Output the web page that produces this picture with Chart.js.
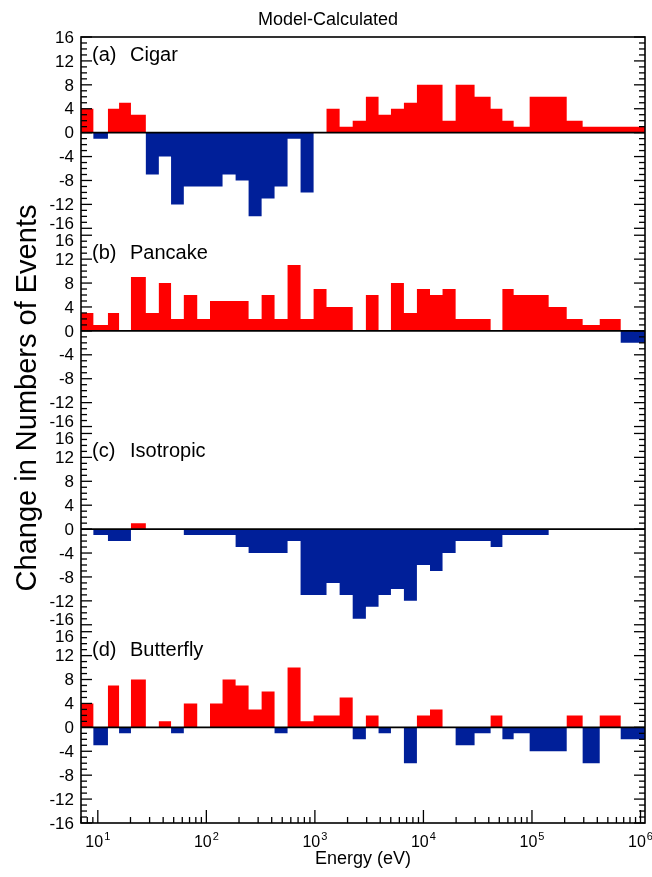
<!DOCTYPE html>
<html>
<head>
<meta charset="utf-8">
<script src="https://cdn.jsdelivr.net/npm/chart.js@4.4.1/dist/chart.umd.min.js"></script>
<style>
    html, body { margin: 0; padding: 0; background: #fff; }
    #wrap { width: 652px; height: 877px; }
</style>
</head>
<body>
<div id="wrap"><canvas id="chart" width="652" height="877"></canvas></div>
<script>
// energy channel edges in eV (41 edges -> 40 channels)
const binEdges = [7, 9.1, 12.4, 15.7, 20.2, 27.7, 36.5, 47.3, 62, 82.4,
    108, 141, 186, 245, 323, 425, 560, 738, 973, 1280,
    1690, 2230, 2950, 3860, 5020, 6610, 8710, 11500, 15000, 19800,
    29600, 41600, 53400, 67800, 95200, 142500, 209000, 293000, 421000, 657000,
    1140000];

// change in number of events per channel, one list per panel
const cigar = [4, -1, 4, 5, 3, -7, -4, -12, -9, -9,
    -9, -7, -8, -14, -11, -9, -1, -10, 0, 4,
    1, 2, 6, 3, 4, 5, 8, 8, 2, 8,
    6, 4, 2, 1, 6, 6, 2, 1, 1, 1];
const pancake = [3, 1, 3, 0, 9, 3, 8, 2, 6, 2,
    5, 5, 5, 2, 6, 2, 11, 2, 7, 4,
    4, 0, 6, 0, 8, 3, 7, 6, 7, 2,
    2, 0, 7, 6, 6, 4, 2, 1, 2, -2];
const isotropic = [0, -1, -2, -2, 1, 0, 0, 0, -1, -1,
    -1, -1, -3, -4, -4, -4, -2, -11, -11, -9,
    -11, -15, -13, -11, -10, -12, -6, -7, -4, -2,
    -2, -3, -1, -1, -1, 0, 0, 0, 0, 0];
const butterfly = [4, -3, 7, -1, 8, 0, 1, -1, 4, 0,
    4, 8, 7, 3, 6, -1, 10, 1, 2, 2,
    5, -2, 2, -1, 0, -6, 2, 3, 0, -3,
    -1, 2, -2, -1, -4, -4, 2, -6, 2, -2];

const panelTags = ["(a)", "(b)", "(c)", "(d)"];
const panelNames = ["Cigar", "Pancake", "Isotropic", "Butterfly"];
const yTicks = [-16, -12, -8, -4, 0, 4, 8, 12, 16];
const xDecades = [1, 2, 3, 4, 5, 6];

const FONT = "'Liberation Sans', Arial, Helvetica, sans-serif";
const RED = "#ff0000";
const BLUE = "#001f99";

const panelIds = ["ya", "yb", "yc", "yd"];
const panelValues = [cigar, pancake, isotropic, butterfly];

// histogram as a stepped line: one point per left edge, plus the last right edge
function stepPoints(values) {
    let pts = values.map((v, i) => ({x: binEdges[i], y: v}));
    pts.push({x: binEdges[values.length], y: values[values.length - 1]});
    return pts;
}

function makeDataset(values, axisId) {
    return {
        data: stepPoints(values),
        yAxisID: axisId,
        stepped: true,
        borderWidth: 0,
        borderColor: "rgba(0,0,0,0)",
        pointRadius: 0,
        fill: {target: "origin", above: RED, below: BLUE}
    };
}

function makeYScale(idx) {
    // small gap between panels, none at the outer frame
    let lo = idx == 3 ? -16 : -16.58;
    let hi = idx == 0 ? 16 : 16.58;
    return {
        type: "linear",
        position: "left",
        stack: "panels",
        stackWeight: hi - lo,
        weight: 4 - idx,
        min: lo,
        max: hi,
        grid: {display: false, drawTicks: false},
        border: {display: false},
        afterBuildTicks: axis => { axis.ticks = yTicks.map(v => ({value: v})); },
        afterFit: axis => { axis.width = 81; },
        ticks: {display: false}
    };
}

function seg(ctx, x1, y1, x2, y2) {
    ctx.beginPath();
    ctx.moveTo(x1, y1);
    ctx.lineTo(x2, y2);
    ctx.stroke();
}

const framePlugin = {
    id: "frame",
    afterDatasetsDraw(chart) {
        const ctx = chart.ctx;
        const area = chart.chartArea;
        const xs = chart.scales.x;
        ctx.save();
        ctx.strokeStyle = "#000";
        ctx.fillStyle = "#000";

        // zero line of each panel
        ctx.lineWidth = 1.6;
        panelIds.forEach(id => {
            let y0 = chart.scales[id].getPixelForValue(0);
            seg(ctx, area.left, y0, area.right, y0);
        });

        // y ticks, inward on both sides
        ctx.lineWidth = 1.3;
        panelIds.forEach(id => {
            let ys = chart.scales[id];
            for (let v = -16; v <= 16; v++) {
                let len = v % 4 == 0 ? 11 : 6;
                let py = ys.getPixelForValue(v);
                seg(ctx, area.left, py, area.left + len, py);
                seg(ctx, area.right - len, py, area.right, py);
            }
        });

        // y tick labels; the ones at inner panel edges are nudged apart
        ctx.font = "17px " + FONT;
        ctx.textAlign = "right";
        ctx.textBaseline = "middle";
        panelIds.forEach((id, i) => {
            let ys = chart.scales[id];
            yTicks.forEach(v => {
                let py = ys.getPixelForValue(v);
                if (v == 16 && i > 0) py += 5;
                if (v == -16 && i < 3) py -= 5;
                ctx.fillText(String(v), area.left - 7, py + 1);
            });
        });

        // x ticks on the bottom axis
        for (let k = 0; k <= 6; k++) {
            for (let m = 1; m <= 9; m++) {
                let val = m * Math.pow(10, k);
                if (val < xs.min || val > xs.max) continue;
                let px = xs.getPixelForValue(val);
                let len = m == 1 ? 13 : 6;
                seg(ctx, px, area.bottom, px, area.bottom - len);
            }
        }

        // frame
        ctx.lineWidth = 1.6;
        ctx.strokeRect(area.left, area.top, area.right - area.left, area.bottom - area.top);

        // x tick labels 10^k
        ctx.textBaseline = "alphabetic";
        ctx.textAlign = "left";
        xDecades.forEach(k => {
            let px = xs.getPixelForValue(Math.pow(10, k));
            ctx.font = "16px " + FONT;
            let wBase = ctx.measureText("10").width;
            ctx.font = "11px " + FONT;
            let wExp = ctx.measureText(String(k)).width;
            let x0 = px - (wBase + wExp + 1) / 2;
            ctx.font = "16px " + FONT;
            ctx.fillText("10", x0, 847);
            ctx.font = "11px " + FONT;
            ctx.fillText(String(k), x0 + wBase + 1, 840);
        });

        // panel labels
        ctx.font = "20px " + FONT;
        panelIds.forEach((id, i) => {
            let yTop = chart.scales[id].getPixelForValue(16);
            ctx.fillText(panelTags[i], 92, yTop + 24);
            ctx.fillText(panelNames[i], 130, yTop + 24);
        });

        // titles
        ctx.textAlign = "center";
        ctx.font = "18px " + FONT;
        ctx.fillText("Model-Calculated", 328, 25);
        ctx.fillText("Energy (eV)", (area.left + area.right) / 2, 864);

        ctx.save();
        ctx.translate(28, 398);
        ctx.rotate(-Math.PI / 2);
        ctx.textBaseline = "middle";
        ctx.font = "29px " + FONT;
        ctx.fillText("Change in Numbers of Events", 0, 0);
        ctx.restore();

        ctx.restore();
    }
};

const scales = {
    x: {type: "logarithmic", min: 7, max: 1.1e6, display: false}
};
panelIds.forEach((id, i) => { scales[id] = makeYScale(i); });

new Chart(document.getElementById("chart").getContext("2d"), {
    type: "line",
    data: {
        datasets: panelValues.map((vals, i) => makeDataset(vals, panelIds[i]))
    },
    options: {
        responsive: false,
        animation: false,
        events: [],
        layout: {padding: {top: 37, right: 7, bottom: 54, left: 0}},
        scales: scales,
        plugins: {
            legend: {display: false},
            tooltip: {enabled: false},
            title: {display: false}
        }
    },
    plugins: [framePlugin]
});
</script>
</body>
</html>
